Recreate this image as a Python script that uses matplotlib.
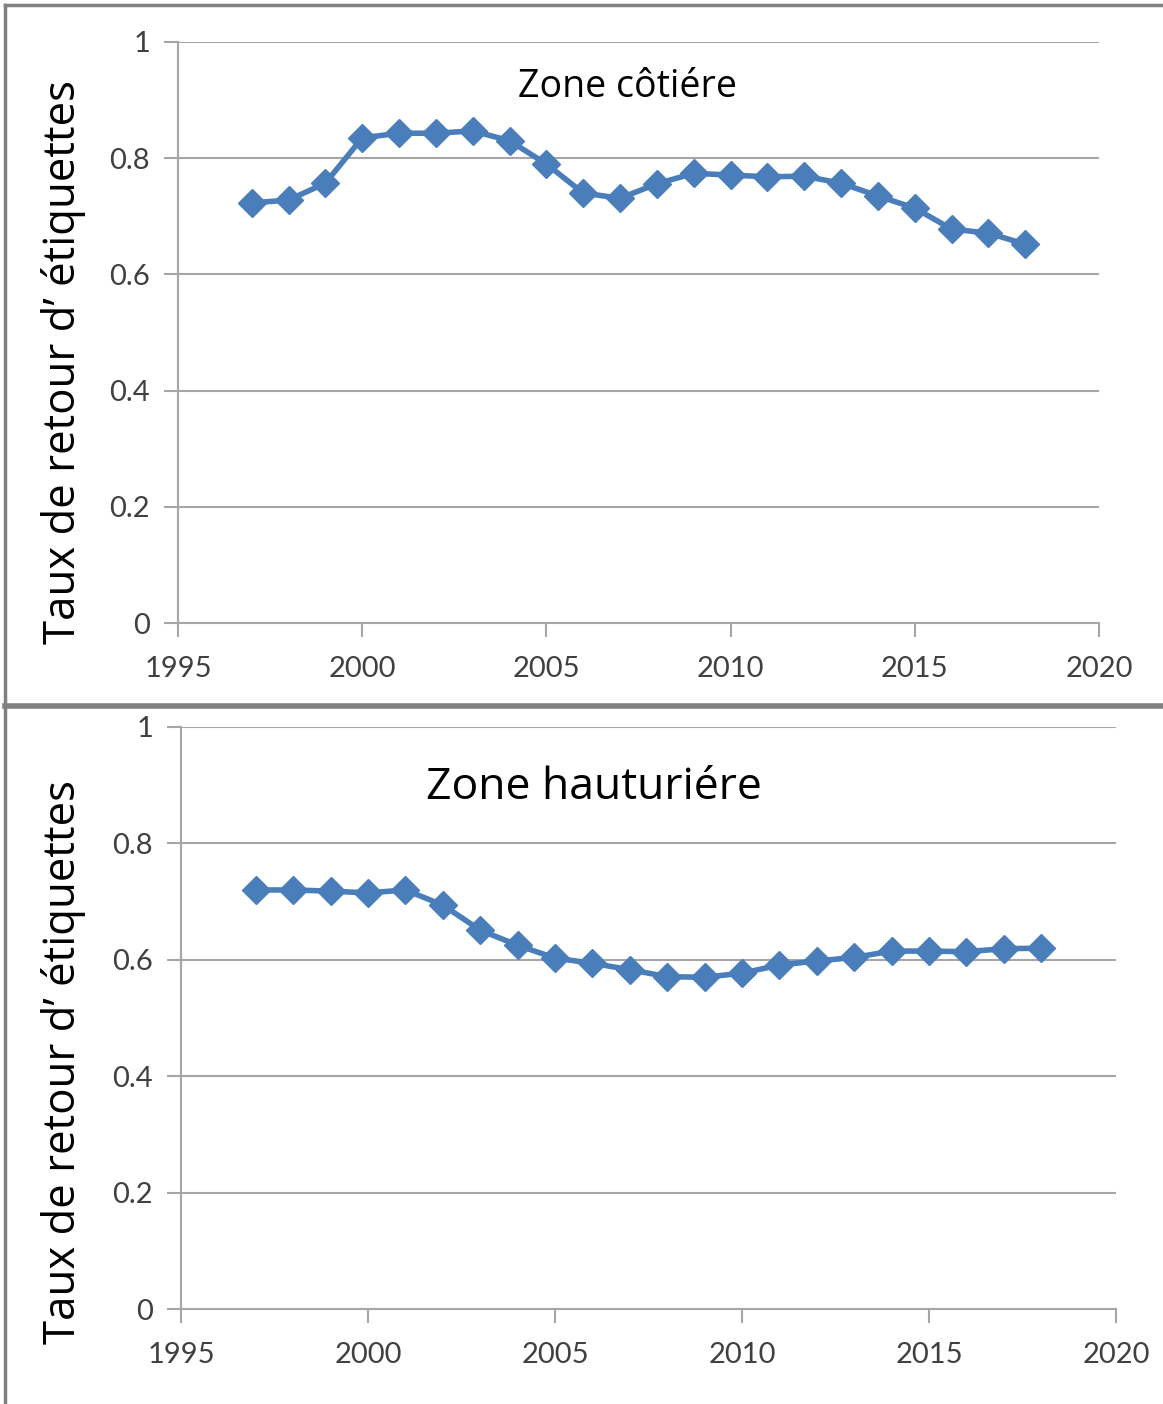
import numpy as np
import matplotlib.pyplot as plt
from matplotlib.lines import Line2D

years = list(range(1997, 2019))
cotiere = [0.723, 0.728, 0.757, 0.835, 0.843, 0.843, 0.847, 0.830, 0.790, 0.740, 0.731,
           0.756, 0.774, 0.771, 0.768, 0.769, 0.757, 0.735, 0.714, 0.678, 0.671, 0.652]
hauturiere = [0.720, 0.720, 0.718, 0.715, 0.720, 0.694, 0.651, 0.625, 0.603, 0.594, 0.583,
              0.571, 0.570, 0.577, 0.591, 0.598, 0.604, 0.615, 0.615, 0.614, 0.619, 0.620]
xticks = [1995, 2000, 2005, 2010, 2015, 2020]
yticks = [0, 0.2, 0.4, 0.6, 0.8, 1]
ytick_labels = ["0", "0.2", "0.4", "0.6", "0.8", "1"]
ylabel = "Taux de retour d\u2019 étiquettes"

W, H = 1163, 1404
fig = plt.figure(figsize=(W / 100, H / 100), dpi=100)
blue = '#4a7ebb'
grid = '#a6a6a6'
tickcol = '#404040'


def box(l, r, t, b):
    return [l / W, 1 - b / H, (r - l) / W, (b - t) / H]


def panel(rect, data, title, title_xy, title_size, label_y):
    ax = fig.add_axes(box(*rect))
    ax.plot(years, data, color=blue, lw=4, marker='D', ms=14, mfc=blue, mec=blue, zorder=3)
    ax.set_xlim(1995, 2020)
    ax.set_ylim(0, 1)
    ax.set_xticks(xticks)
    ax.set_yticks(yticks)
    ax.set_yticklabels(ytick_labels)
    for s in ['top', 'right']:
        ax.spines[s].set_visible(False)
    for s in ['left', 'bottom']:
        ax.spines[s].set_color(grid)
        ax.spines[s].set_linewidth(1.5)
    ax.yaxis.grid(True, color=grid, lw=1.5)
    ax.set_axisbelow(True)
    ax.tick_params(axis='both', direction='out', length=10, width=1.5, color=grid,
                   labelsize=21, labelcolor=tickcol)
    ax.tick_params(axis='x', pad=14)
    ax.tick_params(axis='y', pad=10)
    for t in ax.get_xticklabels() + ax.get_yticklabels():
        t.set_family('Lato')
    fig.text(title_xy[0] / W, 1 - title_xy[1] / H, title, fontsize=title_size,
             family='Open Sans', ha='center', va='center')
    fig.text(64 / W, 1 - label_y / H, ylabel, fontsize=31.5, family='Open Sans',
             rotation=90, ha='center', va='center')
    return ax


panel((178, 1099, 42, 623), cotiere, "Zone côtiére", (628, 87), 27, 362)
panel((181, 1116, 727, 1309), hauturiere, "Zone hauturiére", (594, 788), 32, 1062)

# frame lines around the panels
fc = '#808080'
fig.add_artist(Line2D([5 / W, 1], [1 - 5 / H, 1 - 5 / H], color=fc, lw=2.5))
fig.add_artist(Line2D([5 / W, 5 / W], [0, 1 - 5 / H], color=fc, lw=2.5))
fig.add_artist(Line2D([5 / W, 1], [1 - 706 / H, 1 - 706 / H], color=fc, lw=4))

fig.savefig('out.png', dpi=100)
